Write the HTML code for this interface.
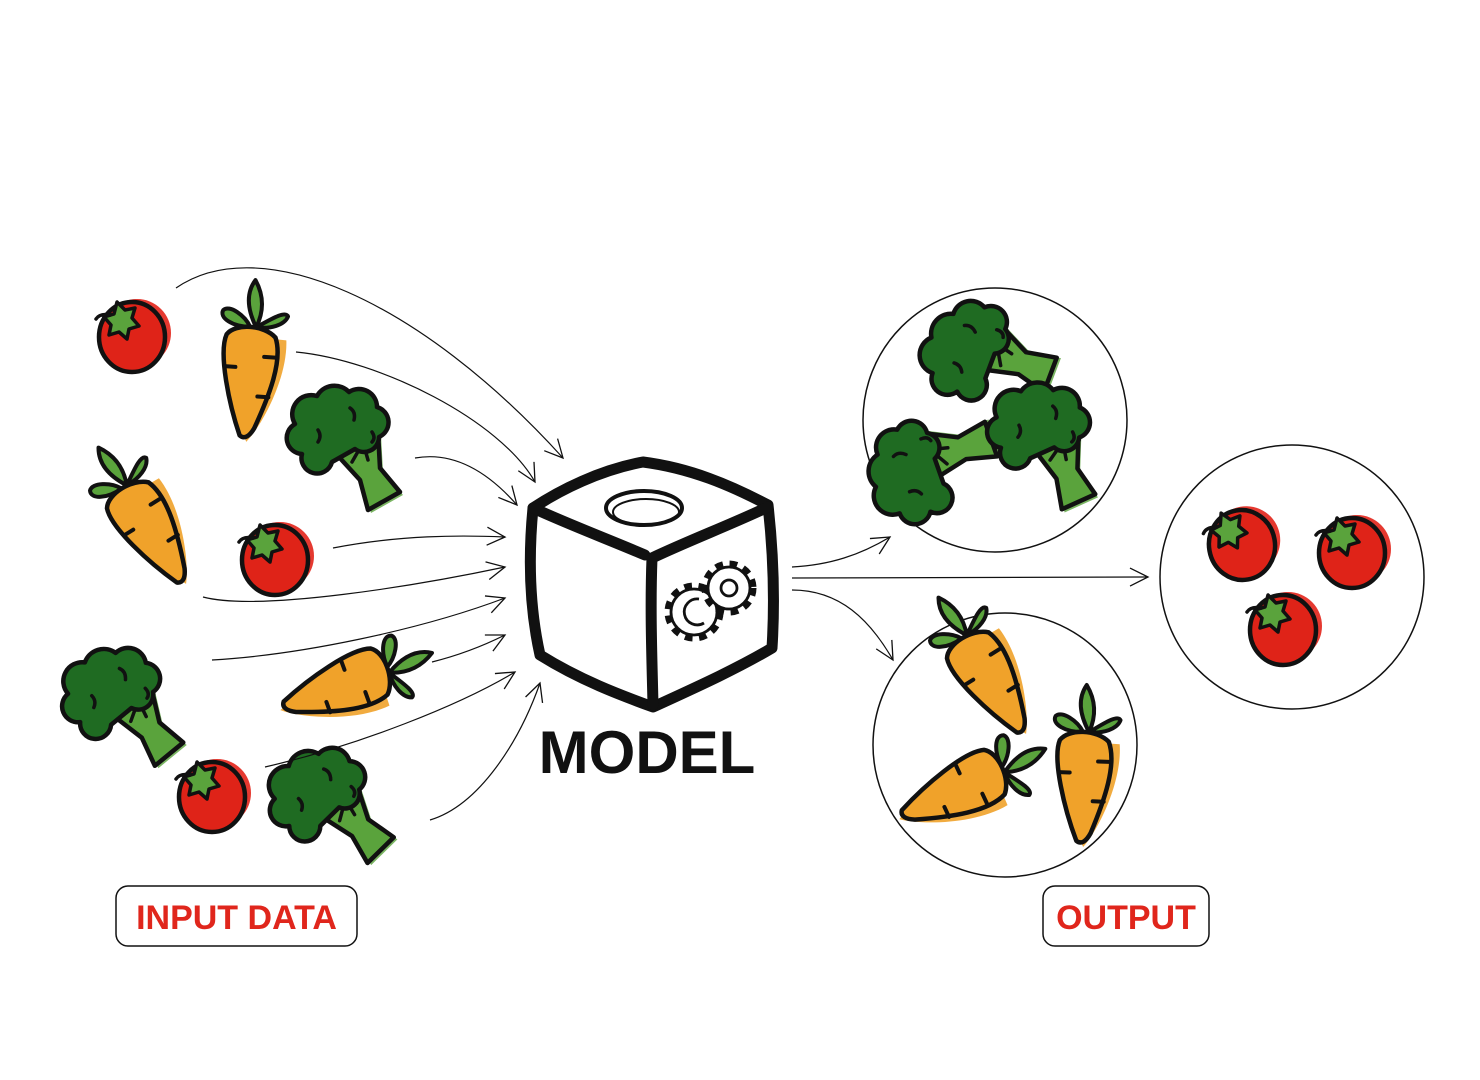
<!DOCTYPE html>
<html><head><meta charset="utf-8"><style>
html,body{margin:0;padding:0;background:#fff;}
svg{display:block}
</style></head><body>
<svg width="1480" height="1080" viewBox="0 0 1480 1080" xmlns="http://www.w3.org/2000/svg">
<defs>
<marker id="ah" markerWidth="24" markerHeight="20" refX="20" refY="10" orient="auto" markerUnits="userSpaceOnUse">
<path d="M2,1 L20,10 L2,19" fill="none" stroke="#111" stroke-width="1.3"/>
</marker>
<symbol id="tom" overflow="visible">
<ellipse cx="5" cy="-4" rx="34" ry="34" fill="#e2231a" opacity="0.9"/>
<ellipse cx="0" cy="0" rx="33" ry="35" fill="#df2318" stroke="#111" stroke-width="4.5"/>
<path d="M-28,-20 l10,-3 l3,-12 l8,8 l10,-2 l-3,10 l7,8 l-10,3 l-2,10 l-8,-7 l-10,3 l2,-10 Z" fill="#5aa33c" stroke="#111" stroke-width="3.5" stroke-linejoin="round"/>
<path d="M-22,-22 q-10,-2 -14,4" fill="none" stroke="#111" stroke-width="3.5" stroke-linecap="round"/>
</symbol>
<symbol id="car" overflow="visible">
<path d="M-28,4 C-32,40 -12,90 -3,110 C10,95 34,45 30,6 Z" fill="#f0a22a" transform="translate(5,2)" opacity="0.9"/>
<path d="M0,-50 C9,-36 11,-20 4,-3 C-6,-20 -9,-36 0,-50 Z" fill="#5aa33c" stroke="#111" stroke-width="4" stroke-linejoin="round"/>
<path d="M-2,-3 C-20,-2 -34,-10 -30,-18 C-24,-24 -8,-14 -2,-3 Z" fill="#5aa33c" stroke="#111" stroke-width="4" stroke-linejoin="round"/>
<path d="M4,-3 C18,-12 32,-22 35,-16 C32,-7 18,-2 4,-3 Z" fill="#5aa33c" stroke="#111" stroke-width="4" stroke-linejoin="round"/>
<path d="M-25,6 C-32,25 -18,75 -5,106 C0,110 5,106 9,98 C22,64 33,28 24,6 C12,-6 -17,-6 -25,6 Z" fill="#f0a22a" stroke="#111" stroke-width="4.5" stroke-linejoin="round"/>
<path d="M-25,38 h11 M25,26 h-11 M21,66 h-11" stroke="#111" stroke-width="4" stroke-linecap="round"/>
</symbol>
<symbol id="bro" overflow="visible">
<path d="M-22,5 L28,-8 L30,28 L50,52 L18,70 L10,40 Z" fill="#5aa33c" transform="translate(3,3)" opacity="0.8"/>
<path d="M-22,5 L28,-8 L30,28 L50,52 L18,70 L10,40 Z" fill="#5aa33c" stroke="#111" stroke-width="4.5" stroke-linejoin="round"/>
<path d="M2,22 l8,-14 M18,20 l-4,-14" stroke="#111" stroke-width="3.5" stroke-linecap="round"/>
<path d="M-48,14 a16,16 0 0 1 -7,-30 a19,19 0 0 1 22,-28 a20,20 0 0 1 32,-4 a18,18 0 0 1 28,15 a16,16 0 0 1 2,30 a15,15 0 0 1 -24,12 L-18,22 a15,15 0 0 1 -30,-8 Z" fill="#1f6b22" stroke="#111" stroke-width="4.5" stroke-linejoin="round"/>
<path d="M-32,-10 q4,6 0,12 M0,-32 q6,4 4,12 M22,-8 q4,6 0,10" fill="none" stroke="#111" stroke-width="3.5" stroke-linecap="round"/>
</symbol>
</defs>

<!-- input vegetables -->
<use href="#tom" transform="translate(132,337)"/>
<use href="#car" transform="translate(252,330) rotate(4)"/>
<use href="#bro" transform="translate(350,440)"/>
<use href="#car" transform="translate(125,490) rotate(-32)"/>
<use href="#tom" transform="translate(275,560)"/>
<use href="#bro" transform="translate(125,700) rotate(-10)"/>
<use href="#car" transform="translate(385,670) rotate(70)"/>
<use href="#tom" transform="translate(212,797)"/>
<use href="#bro" transform="translate(332,800) rotate(-15)"/>

<!-- input arrows -->
<g fill="none" stroke="#111" stroke-width="1.2" marker-end="url(#ah)">
<path d="M176,288 C260,230 420,300 563,458"/>
<path d="M296,352 C380,360 500,420 535,482"/>
<path d="M415,458 C460,450 495,480 517,505"/>
<path d="M333,548 C400,535 460,535 505,537"/>
<path d="M203,597 C260,612 420,585 505,567"/>
<path d="M212,660 C300,655 420,630 505,598"/>
<path d="M432,662 C460,655 485,645 505,635"/>
<path d="M265,767 C360,745 460,705 515,672"/>
<path d="M430,820 C480,805 520,740 540,683"/>
</g>

<!-- cube -->
<g fill="none" stroke="#111" stroke-width="11" stroke-linecap="round" stroke-linejoin="round">
<path d="M643,462 C600,470 560,490 533,508 C528,560 530,610 540,655 C580,680 620,695 653,707 C690,690 735,670 772,648 C775,600 773,550 768,505 C730,485 690,468 643,462 Z" fill="#fff"/>
<path d="M533,508 C570,525 610,540 645,555"/>
<path d="M768,507 C730,525 690,540 652,558 C650,610 652,660 653,705"/>
</g>
<ellipse cx="644" cy="508" rx="38" ry="17" fill="none" stroke="#111" stroke-width="4"/>
<ellipse cx="646" cy="512" rx="33" ry="13" fill="none" stroke="#111" stroke-width="2"/>
<g fill="none" stroke="#111" stroke-linejoin="round">
<circle cx="694" cy="612" r="24" stroke-width="11" stroke-dasharray="7 6"/>
<circle cx="694" cy="612" r="23" fill="#fff" stroke-width="2.8"/>
<path d="M699,599 a13,13 0 1 0 5,24" stroke-width="2.8"/>
<circle cx="729" cy="588" r="22" stroke-width="11" stroke-dasharray="7 6"/>
<circle cx="729" cy="588" r="21" fill="#fff" stroke-width="2.8"/>
<circle cx="729" cy="588" r="8" stroke-width="2.8"/>
</g>
<text x="647" y="773" text-anchor="middle" font-family="Liberation Sans, sans-serif" font-weight="bold" font-size="60" fill="#111">MODEL</text>

<!-- output arrows -->
<g fill="none" stroke="#111" stroke-width="1.2" marker-end="url(#ah)">
<path d="M792,567 C830,565 860,555 890,537"/>
<path d="M792,578 L1148,577"/>
<path d="M792,590 C840,590 870,620 893,660"/>
</g>

<!-- output circles -->
<g fill="none" stroke="#111" stroke-width="1.5">
<circle cx="995" cy="420" r="132"/>
<circle cx="1292" cy="577" r="132"/>
<circle cx="1005" cy="745" r="132"/>
</g>
<use href="#bro" transform="translate(985,350) rotate(-40)"/>
<use href="#bro" transform="translate(925,462) rotate(-80)"/>
<use href="#bro" transform="translate(1050,438) rotate(5)"/>
<use href="#tom" transform="translate(1242,545) rotate(-10)"/>
<use href="#tom" transform="translate(1352,553)"/>
<use href="#tom" transform="translate(1283,630)"/>
<use href="#car" transform="translate(965,640) rotate(-32)"/>
<use href="#car" transform="translate(1085,735) rotate(2)"/>
<use href="#car" transform="translate(1000,770) rotate(65)"/>

<!-- labels -->
<rect x="116" y="886" width="241" height="60" rx="12" fill="#fff" stroke="#111" stroke-width="1.5"/>
<text x="236.5" y="929" text-anchor="middle" font-family="Liberation Sans, sans-serif" font-weight="bold" font-size="34" fill="#e0261c">INPUT DATA</text>
<rect x="1043" y="886" width="166" height="60" rx="12" fill="#fff" stroke="#111" stroke-width="1.5"/>
<text x="1126" y="929" text-anchor="middle" font-family="Liberation Sans, sans-serif" font-weight="bold" font-size="34" fill="#e0261c">OUTPUT</text>
</svg>
</body></html>
